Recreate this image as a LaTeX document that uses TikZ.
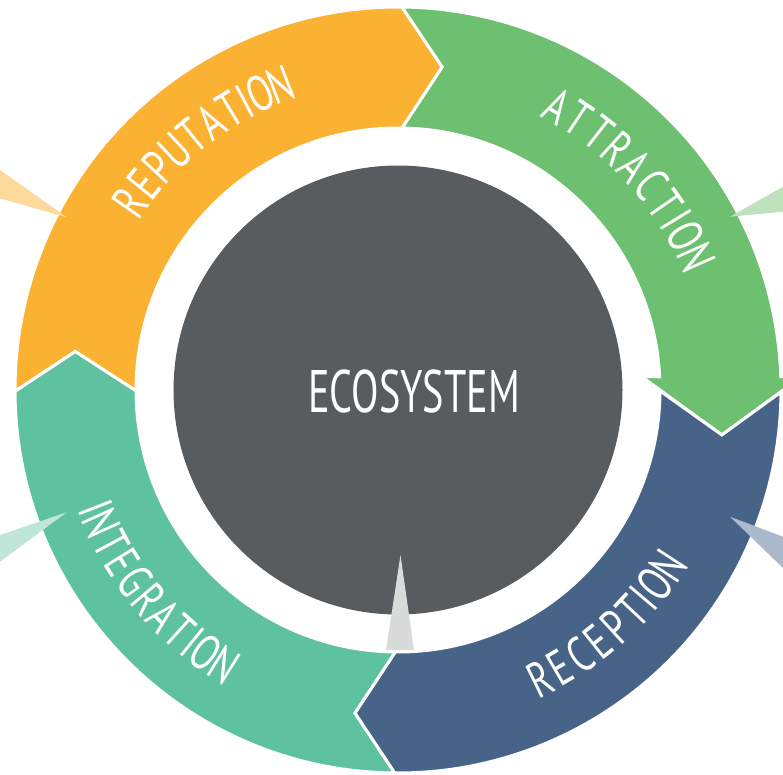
\documentclass[tikz,border=0pt]{standalone}
\usepackage{fontspec}
\newfontfamily\handfont{PT Sans}
\definecolor{repcol}{HTML}{FBB132}
\definecolor{attcol}{HTML}{6DC06F}
\definecolor{reccol}{HTML}{476488}
\definecolor{intcol}{HTML}{5EC2A1}
\definecolor{ecocol}{HTML}{585C5F}
\definecolor{replight}{HTML}{FDD99B}
\definecolor{attlight}{HTML}{BEE2BB}
\definecolor{reclight}{HTML}{AAB9CB}
\definecolor{intlight}{HTML}{BFE6D8}
\definecolor{pincol}{HTML}{D9DADA}
\begin{document}
\begin{tikzpicture}[x=1pt,y=1pt,
    seg/.style={draw=white,line width=3pt,line join=miter},
    ringtext/.style={text=white,inner sep=0pt,
      font=\handfont\fontsize{50}{50}\selectfont}]
\useasboundingbox (-398,-384) rectangle (385,390);
\clip (-398,-384) rectangle (385,390);

% ring
\fill[repcol,seg] (180.2:383) -- (173.2:325) -- (180.2:262)
  arc[start angle=180.2,end angle=89.1,radius=262] -- (82.2:326) -- (89.4:383)
  arc[start angle=89.4,end angle=180.2,radius=383] -- cycle;
\fill[attcol,seg] (89.4:383) -- (82.2:326) -- (89.1:262)
  arc[start angle=89.1,end angle=2.9,radius=262] -- (243.7,13.3) -- (-7.9:327)
  -- (403.4,13.3) -- (2.0:383)
  arc[start angle=2.0,end angle=89.4,radius=383] -- cycle;
\fill[reccol,seg] (-0.3:383) -- (-7.9:327) -- (-0.2:262)
  arc[start angle=-0.2,end angle=-90.6,radius=262] -- (-97.6:326) -- (-90.5:383)
  arc[start angle=-90.5,end angle=-0.3,radius=383] -- cycle;
\fill[intcol,seg] (-90.5:383) -- (-97.6:326) -- (-90.6:262)
  arc[start angle=-90.6,end angle=-179.8,radius=262] -- (173.2:325) -- (180.2:383)
  arc[start angle=180.2,end angle=269.5,radius=383] -- cycle;

% centre
\node[circle,fill=ecocol,minimum size=449pt,inner sep=0pt] (eco) at (0,0) {};
\node[text=white,font=\handfont\fontsize{60}{60}\selectfont] (ecotext) at (16,-1)
  {\scalebox{0.67}[1]{ECOSYSTEM}};
\fill[pincol] (2.5,-165) -- (16,-260) -- (-12,-260) -- cycle;

% pointers
\fill[replight] (-331.3,172.7) -- (-398,220) -- (-398,191.7) -- cycle;
\fill[attlight] (332,173.3) -- (385,203.3) -- (385,178.3) -- cycle;
\fill[reclight] (332,-126.7) -- (385,-146.7) -- (385,-178) -- cycle;
\fill[intlight] (-331.3,-122.3) -- (-398,-145) -- (-398,-171.7) -- cycle;

% labels
\foreach \ch/\a [count=\i] in {R/145,E/141,P/137,U/133,T/129,A/125,T/121,I/118,O/115,N/111}
  \node[ringtext,rotate=\a-90] (rep\i) at (\a:327) {\scalebox{0.72}[1]{\ch}};
\foreach \ch/\a [count=\i] in {A/60.7,T/56.4,T/52.0,R/47.7,A/43.4,C/39.0,T/34.7,I/31.5,O/28.2,N/23.9}
  \node[ringtext,rotate=\a-90] (att\i) at (\a:326) {\scalebox{0.72}[1]{\ch}};
\foreach \ch/\a [count=\i] in {R/-63.8,E/-59.7,C/-55.6,E/-51.5,P/-47.4,T/-43.3,I/-40.2,O/-37.1,N/-33.0}
  \node[ringtext,rotate=\a+90] (rec\i) at (\a:322) {\scalebox{0.72}[1]{\ch}};
\foreach \ch/\a [count=\i] in {I/201.3,N/204.3,T/208.2,E/212.1,G/216.1,R/220.0,A/223.9,T/227.9,I/230.8,O/233.8,N/237.7}
  \node[ringtext,rotate=\a+90] (int\i) at (\a:325) {\scalebox{0.72}[1]{\ch}};
\end{tikzpicture}
\end{document}
